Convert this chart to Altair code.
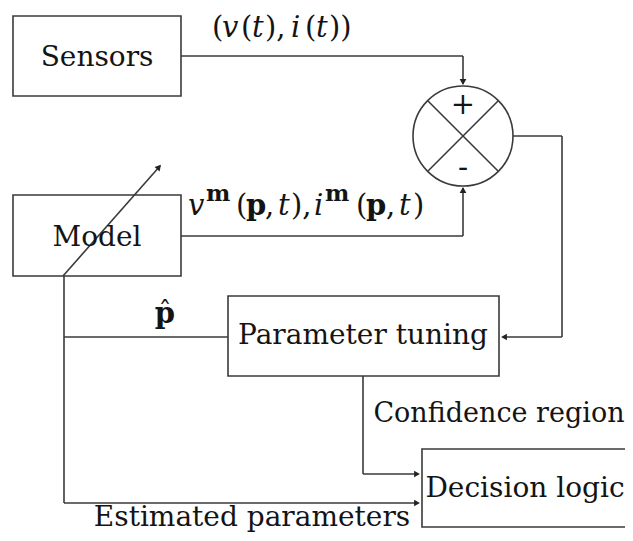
import altair as alt
import pandas as pd

# ---- blocks of the diagram (pixel coordinates of the figure) ----
box_names = ["Sensors", "Model", "Parameter tuning", "Decision logic"]
box_x1 = [13, 13, 228, 422]
box_x2 = [181, 181, 499, 660]
box_y1 = [16, 195, 296, 449]
box_y2 = [96, 276, 376, 527]
box_label_x = [97, 97, 363, 525]
box_label_y = [66, 246, 344, 497]

# ---- connector segments ----
seg_x1 = [181, 463, 181, 463, 513, 562, 562, 228, 63, 64, 64, 363, 363, 428, 428]
seg_y1 = [56, 56, 236, 236, 136, 136, 337, 337, 276, 276, 503, 376, 474, 101, 171]
seg_x2 = [463, 463, 463, 463, 562, 562, 503, 64, 160, 64, 418, 363, 418, 498, 498]
seg_y2 = [56, 84, 236, 188, 136, 337, 337, 337, 166, 503, 503, 474, 474, 171, 101]

# ---- arrow heads ----
arr_x = [463, 463, 504, 417, 417, 159]
arr_y = [82, 190, 337, 474, 503, 167]
arr_angle = [180, 0, 270, 90, 90, 41]

# ---- summing junction ----
sum_x = [463]
sum_y = [136]

# ---- free labels ----
lab_text = ["Confidence region", "Estimated parameters", "+", "-"]
lab_x = [499, 252, 463, 463]
lab_y = [422, 526, 114, 177]
lab_size = [27, 28, 29, 30]

# ---- math labels, piece by piece ----
math_text = ["(", "v", "(", "t", "),", "i", "(", "t", "))",
             "v", "m", "(", "p", ",", "t", "),", "i", "m", "(", "p", ",", "t", ")",
             "p", "ˆ"]
math_x = [212, 222, 241, 252, 265, 291, 305, 316, 329,
          188, 206, 236, 246, 265, 278, 291, 314, 325, 356, 366, 386, 399, 413,
          165, 165]
math_y = [37, 37, 37, 37, 37, 37, 37, 37, 37,
          215, 201, 215, 215, 215, 215, 215, 215, 201, 215, 215, 215, 215, 215,
          323, 320]
math_style = ["rm", "it", "rm", "it", "rm", "it", "rm", "it", "rm",
              "it", "sup", "rm", "bf", "rm", "it", "rm", "it", "sup", "rm", "bf", "rm", "it", "rm",
              "bfc", "rmc"]

boxes = pd.DataFrame({"name": box_names, "x1": box_x1, "x2": box_x2, "y1": box_y1,
                      "y2": box_y2, "lx": box_label_x, "ly": box_label_y})
segs = pd.DataFrame({"x1": seg_x1, "y1": seg_y1, "x2": seg_x2, "y2": seg_y2})
arrows = pd.DataFrame({"x": arr_x, "y": arr_y, "angle": arr_angle})
summ = pd.DataFrame({"x": sum_x, "y": sum_y})
labs = pd.DataFrame({"t": lab_text, "x": lab_x, "y": lab_y, "s": lab_size})
math = pd.DataFrame({"t": math_text, "x": math_x, "y": math_y, "st": math_style})

W, H = 617, 525
xs = alt.Scale(domain=[8, 8 + W], nice=False, zero=False)
ys = alt.Scale(domain=[8, 8 + H], nice=False, zero=False, reverse=True)
LINE = "#3a3a3a"
INK = "#141414"
FONT = "DejaVu Serif"

rects = alt.Chart(boxes).mark_rect(fill="white", stroke=LINE, strokeWidth=1.6).encode(
    x=alt.X("x1:Q", scale=xs, axis=None), x2="x2:Q",
    y=alt.Y("y1:Q", scale=ys, axis=None), y2="y2:Q")

box_text = alt.Chart(boxes).mark_text(font=FONT, fontSize=28, align="center",
                                      baseline="alphabetic", color=INK).encode(
    x=alt.X("lx:Q", scale=xs, axis=None), y=alt.Y("ly:Q", scale=ys, axis=None), text="name:N")

rules = alt.Chart(segs).mark_rule(color=LINE, strokeWidth=1.6).encode(
    x=alt.X("x1:Q", scale=xs, axis=None), x2="x2:Q",
    y=alt.Y("y1:Q", scale=ys, axis=None), y2="y2:Q")

heads = alt.Chart(arrows).mark_point(filled=True, color="#222", size=45, opacity=1,
                                     shape="triangle-up").encode(
    x=alt.X("x:Q", scale=xs, axis=None), y=alt.Y("y:Q", scale=ys, axis=None),
    angle=alt.Angle("angle:Q", scale=None))

circle = alt.Chart(summ).mark_point(shape="circle", size=10000, filled=False,
                                    stroke=LINE, strokeWidth=1.6, opacity=1).encode(
    x=alt.X("x:Q", scale=xs, axis=None), y=alt.Y("y:Q", scale=ys, axis=None))

free_text = alt.Chart(labs).mark_text(font=FONT, align="center", baseline="alphabetic",
                                      color=INK).encode(
    x=alt.X("x:Q", scale=xs, axis=None), y=alt.Y("y:Q", scale=ys, axis=None),
    text="t:N", size=alt.Size("s:Q", scale=None))

def math_layer(style, **kw):
    return alt.Chart(math).transform_filter(alt.datum.st == style).mark_text(
        font=FONT, baseline="alphabetic", color=INK, **kw).encode(
        x=alt.X("x:Q", scale=xs, axis=None), y=alt.Y("y:Q", scale=ys, axis=None), text="t:N")

m_rm = math_layer("rm", fontSize=29, align="left")
m_it = math_layer("it", fontSize=29, align="left", fontStyle="italic")
m_bf = math_layer("bf", fontSize=29, align="left", fontWeight="bold")
m_sup = math_layer("sup", fontSize=23, align="left", fontWeight="bold")
m_bfc = math_layer("bfc", fontSize=29, align="center", fontWeight="bold")
m_rmc = math_layer("rmc", fontSize=26, align="center")

chart = alt.layer(rects, rules, heads, circle, box_text, free_text,
                  m_rm, m_it, m_bf, m_sup, m_bfc, m_rmc).properties(
    width=W, height=H, padding=0, autosize="none", background="white"
).configure_view(stroke=None)

chart.save("out.html", embed_options={"renderer": "svg", "actions": False})
